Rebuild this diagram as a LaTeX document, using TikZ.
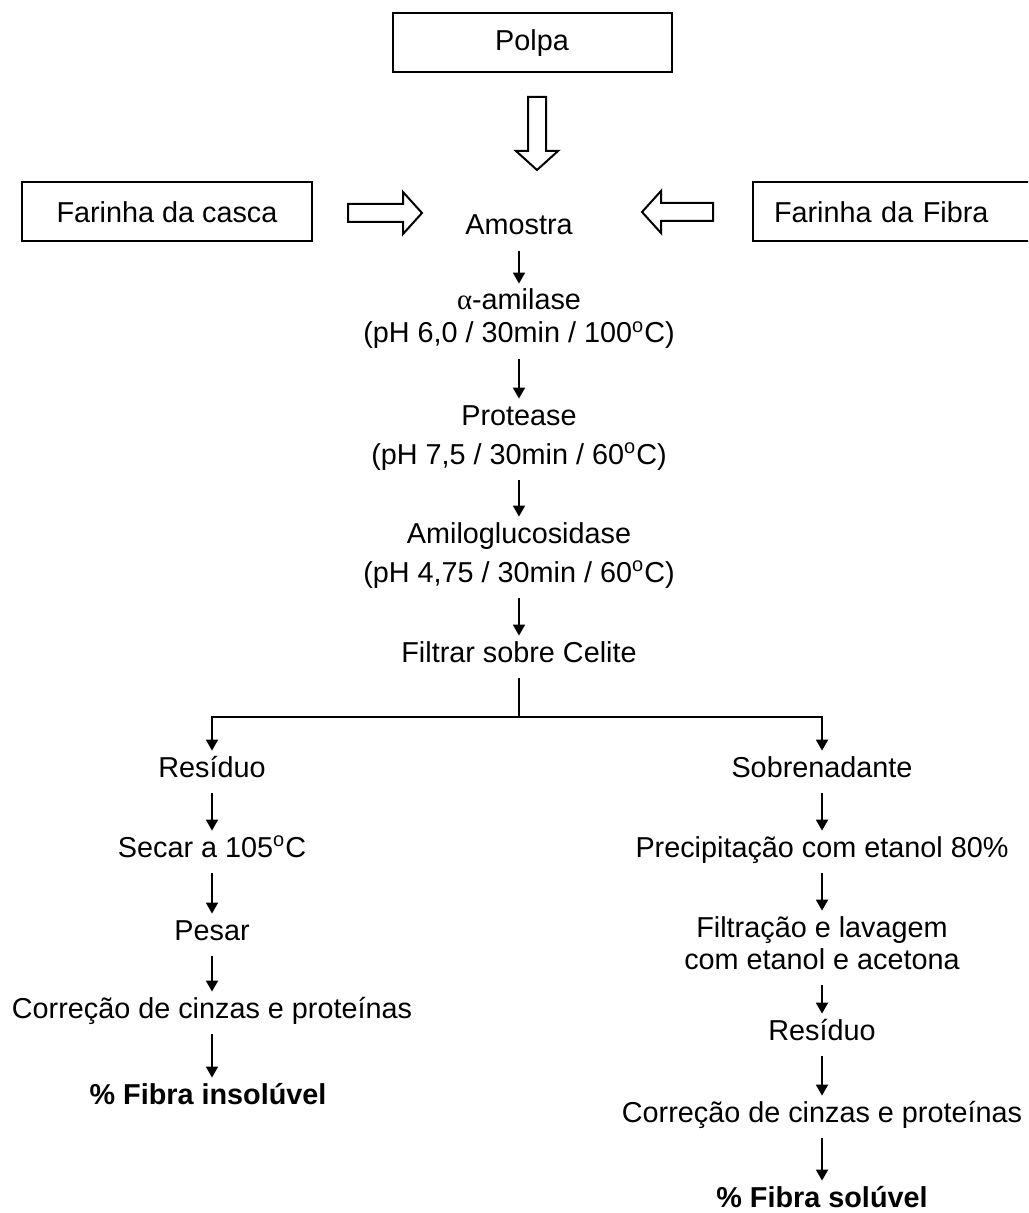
\documentclass[tikz,border=0pt]{standalone}
\usepackage{fontspec}
\setmainfont{Liberation Sans}
\newfontfamily\greekfont{Liberation Serif}
\usepackage{tikz}
\usetikzlibrary{arrows.meta,positioning}

\begin{document}
\begin{tikzpicture}[x=0.5pt,y=-0.5pt,
  every node/.style={font=\fontsize{14.4}{17}\selectfont},
  txt/.style={anchor=base,text height=0.75em,text depth=0.25em,inner ysep=5.5pt,inner xsep=2pt},
  box/.style={draw,line width=1pt,minimum height=29.5pt,inner xsep=10.5pt},
  arr/.style={line width=0.9pt,-{Triangle[length=5.5pt,width=6pt]}},
  blk/.style={draw,line width=1pt}]
\path[use as bounding box,clip] (0,0) rectangle (1028,1213);

% sources
\node[box,minimum width=139.5pt] (polpa) at (532,43) {Polpa};
\node[box,minimum width=145pt] (casca) at (167,212) {Farinha da casca};
\node[box,anchor=west,text width=124pt,align=left] (fibra) at (752,212) {Farinha da Fibra};
\foreach \x/\y/\r/\l in {537/97/-90/73, 348/213/0/74, 713/212/180/71}
  \draw[blk,shift={(\x,\y)},rotate=\r] (0,-9) -- (\l-19,-9) -- (\l-19,-21) -- (\l,0)
    -- (\l-19,21) -- (\l-19,9) -- (0,9) -- cycle;

% main column
\node[txt] (amostra) at (519,235) {Amostra};
\node[txt] (amil) at (519,310) {{\greekfont α}-amilase};
\node[txt] (amilc) at (519,343) {(pH 6,0 / 30min / 100\textsuperscript{o}C)};
\node[txt] (prot) at (519,425) {Protease};
\node[txt] (protc) at (519,464) {(pH 7,5 / 30min / 60\textsuperscript{o}C)};
\node[txt] (amig) at (519,543) {Amiloglucosidase};
\node[txt] (amigc) at (519,582) {(pH 4,75 / 30min / 60\textsuperscript{o}C)};
\node[txt] (filtrar) at (519,662) {Filtrar sobre Celite};
\coordinate (split) at (519,717);

% insoluble
\node[txt] (res) at (212,777) {Resíduo};
\node[txt] (secar) at (212,857) {Secar a 105\textsuperscript{o}C};
\node[txt] (pesar) at (212,940) {Pesar};
\node[txt] (corr) at (212,1018) {Correção de cinzas e proteínas};
\node[txt] (insol) at (208,1104) {\textbf{\% Fibra insolúvel}};

% soluble
\node[txt] (sob) at (822,777) {Sobrenadante};
\node[txt] (prec) at (822,857) {Precipitação com etanol 80\%};
\node[txt] (filt) at (822,937) {Filtração e lavagem};
\node[txt] (filt2) at (822,969) {com etanol e acetona};
\node[txt] (res2) at (822,1040) {Resíduo};
\node[txt] (corr2) at (822,1122) {Correção de cinzas e proteínas};
\node[txt] (sol) at (822,1207) {\textbf{\% Fibra solúvel}};

\foreach \a/\b in {amostra/amil, amilc/prot, protc/amig, amigc/filtrar, res/secar,
  secar/pesar, pesar/corr, sob/prec, prec/filt, filt2/res2, res2/corr2, corr2/sol}
  \draw[arr] (\a) -- (\b);
\draw[arr] (corr) -- (corr |- insol.north);
\draw[line width=0.9pt] (filtrar) -- (split);
\draw[arr] (split) -| (res);
\draw[arr] (split) -| (sob);
\end{tikzpicture}
\end{document}
